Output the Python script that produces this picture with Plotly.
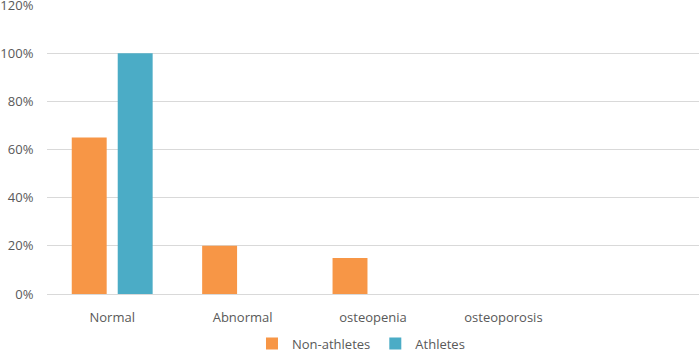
import plotly.graph_objects as go

categories = ["Normal", "Abnormal", "osteopenia", "osteoporosis"]
non_athletes = [0.65, 0.20, 0.15, 0.0]
athletes = [1.00, 0.0, 0.0, 0.0]
y_ticks = [0, 0.2, 0.4, 0.6, 0.8, 1.0, 1.2]
y_tick_labels = ["0%", "20%", "40%", "60%", "80%", "100%", "120%"]

fig = go.Figure()
fig.add_trace(go.Bar(name="Non-athletes", x=categories, y=non_athletes,
                     marker=dict(color="#F79646", line=dict(width=0))))
fig.add_trace(go.Bar(name="Athletes", x=categories, y=athletes,
                     marker=dict(color="#4BACC6", line=dict(width=0))))

fig.update_layout(
    width=699, height=352,
    margin=dict(l=47, r=0, t=5, b=58),
    paper_bgcolor="white", plot_bgcolor="white",
    barmode="group", bargap=0.295, bargroupgap=0.24,
    font=dict(family="Open Sans", size=13, color="#595959"),
    legend=dict(orientation="h", x=0.3605, xanchor="left", xref="container",
                y=0.024, yanchor="middle", yref="container",
                bgcolor="rgba(0,0,0,0)",
                font=dict(size=13, color="#595959"), itemwidth=30),
    showlegend=True,
)
fig.update_xaxes(type="category", range=[-0.5, 4.5], showgrid=False, showline=True,
                 linecolor="#D9D9D9", linewidth=1, ticks="outside", ticklen=11,
                 tickcolor="rgba(0,0,0,0)", automargin=False)
fig.update_yaxes(range=[0, 1.2005], tickvals=y_ticks, ticktext=y_tick_labels,
                 showgrid=True, gridcolor="#D9D9D9", ticklabeloverflow="allow",
                 zeroline=False, showline=False, ticks="outside", ticklen=10,
                 tickcolor="rgba(0,0,0,0)", automargin=False)

fig.write_html("out.html", config={"displayModeBar": False},
               post_script="document.body.style.margin='0';")
